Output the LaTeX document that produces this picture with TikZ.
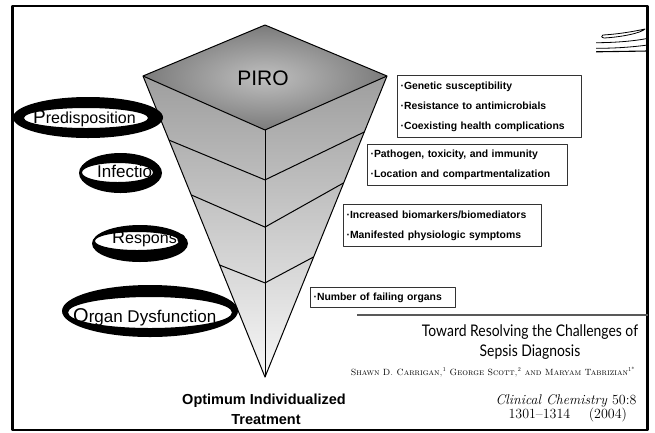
\documentclass[tikz,border=0pt]{standalone}
\usepackage{fontspec}
\usetikzlibrary{calc}
\newfontfamily\arial{Liberation Sans}
\newfontfamily\titlefont[FakeStretch=0.87]{Lato}
\newcommand\lmrfont{\fontfamily{lmr}\selectfont}
\begin{document}
\begin{tikzpicture}[x=1pt,y=-1pt,line join=round]
\useasboundingbox (0,0) rectangle (655,432);
\tikzset{
  edge/.style={draw=black,line width=1pt},
  infobox/.style={draw=black!80,line width=1.1pt,fill=white,
    font=\arial\bfseries\fontsize{10.4}{20}\selectfont,align=left,
    anchor=north west,inner xsep=3pt,inner ysep=0pt},
  ring/.style={fill=black,even odd rule},
  ringlabel/.style={font=\arial\fontsize{17}{17}\selectfont,anchor=base west,inner sep=0pt},
  swoosh/.style={draw=black,line width=0.8pt},
}
% frame
\draw[line width=2.5pt] (12.5,6) rectangle (647.5,430);
% swoosh decoration
\draw[swoosh] (603,35) .. controls (620,34) and (636,31) .. (645,29)
  .. controls (641,33) and (622,37) .. (604,38) .. controls (601,37.5) and (601,35.5) .. (603,35) -- cycle;
\draw[swoosh] (596,42.7) .. controls (615,42.7) and (635,41) .. (648,38.3);
\draw[swoosh] (596,48.3) .. controls (620,48.3) and (636,46.5) .. (648,45);
\draw[swoosh,line width=1.1pt] (596,51.8) -- (648,51);
% pyramid
\coordinate (T) at (265,25);
\coordinate (L) at (143,76);
\coordinate (R) at (387,76);
\coordinate (C) at (265,130);
\coordinate (A) at (265,377);
\shade[top color=black!38,bottom color=black!3] (L)--(C)--(R)--(A)--cycle;
\shade[inner color=black!25,outer color=black!52] (T)--(R)--(C)--(L)--cycle;
\draw[edge] (T)--(R)--(A)--(L)--cycle;
\draw[edge] (L)--(C)--(R);
\draw[edge] (C)--(A);
\draw[edge] ($(L)!0.213!(A)$) -- ($(C)!0.202!(A)$) -- ($(R)!0.186!(A)$);
\draw[edge] ($(L)!0.395!(A)$) -- ($(C)!0.393!(A)$) -- ($(R)!0.355!(A)$);
\draw[edge] ($(L)!0.628!(A)$) -- ($(C)!0.619!(A)$) -- ($(R)!0.601!(A)$);
\node[font=\arial\fontsize{21}{21}\selectfont,anchor=base] (piro) at (263,85) {PIRO};
% ring labels
\node[ringlabel] (pre) at (33,123) {\fontsize{19}{19}\selectfont P\fontsize{16}{16}\selectfont redisposition};
\fill[ring] (88,117.5) ellipse [x radius=75pt,y radius=20.5pt] (86,118) ellipse [x radius=62pt,y radius=10pt];
\node[ringlabel] (inf) at (97,177) {Infection};
\fill[ring] (120.5,173) ellipse [x radius=41.5pt,y radius=20pt] (117.5,172.5) ellipse [x radius=35.5pt,y radius=9.5pt];
\node[ringlabel] (res) at (112,243) {\fontsize{18}{18}\selectfont R\fontsize{16}{16}\selectfont esponse};
\fill[ring] (140,243.5) ellipse [x radius=48pt,y radius=18.5pt] (137,241) ellipse [x radius=42pt,y radius=9pt];
\node[ringlabel] (org) at (73,322) {\fontsize{20}{20}\selectfont O\fontsize{17}{17}\selectfont rgan Dysfunction};
\fill[ring] (150,311) ellipse [x radius=88pt,y radius=26pt] (150,312.5) ellipse [x radius=82pt,y radius=15.5pt];
% info boxes
\node[infobox,text width=178pt,minimum height=62pt] (b1) at (397,75)
  {·Genetic susceptibility\\·Resistance to antimicrobials\\·Coexisting health complications};
\node[infobox,text width=194pt,minimum height=41pt] (b2) at (367,144)
  {·Pathogen, toxicity, and immunity\\·Location and compartmentalization};
\node[infobox,text width=192pt,minimum height=42pt] (b3) at (343,204)
  {·Increased biomarkers/biomediators\\·Manifested physiologic symptoms};
\node[infobox,text width=139pt,minimum height=20pt] (b4) at (310,287)
  {·Number of failing organs};
% bottom text
\node[font=\arial\bfseries\fontsize{14.5}{14.5}\selectfont,anchor=base] (opt1) at (264,404) {Optimum Individualized};
\node[font=\arial\bfseries\fontsize{14.5}{14.5}\selectfont,anchor=base] (opt2) at (266,424) {Treatment};
% reference
\draw[line width=1.3pt,black!65] (357,315) -- (648,315);
\node[font=\titlefont\fontsize{16}{16}\selectfont,anchor=base] (t1) at (530,336) {Toward Resolving the Challenges of};
\node[font=\titlefont\fontsize{16}{16}\selectfont,anchor=base] (t2) at (530,356) {Sepsis Diagnosis};
\node[font=\lmrfont\fontsize{9}{9}\selectfont\scshape,anchor=base] (auth) at (493,375)
  {Shawn D. Carrigan,\textsuperscript{1} George Scott,\textsuperscript{2} and Maryam Tabrizian\textsuperscript{1*}};
\node[font=\lmrfont\fontsize{14}{14}\selectfont,anchor=base east] (j1) at (640,404) {\textit{Clinical Chemistry} 50:8};
\node[font=\lmrfont\fontsize{14}{14}\selectfont,anchor=base west] (j2) at (505,418) {1301--1314\quad\ (2004)};
\end{tikzpicture}
\end{document}
